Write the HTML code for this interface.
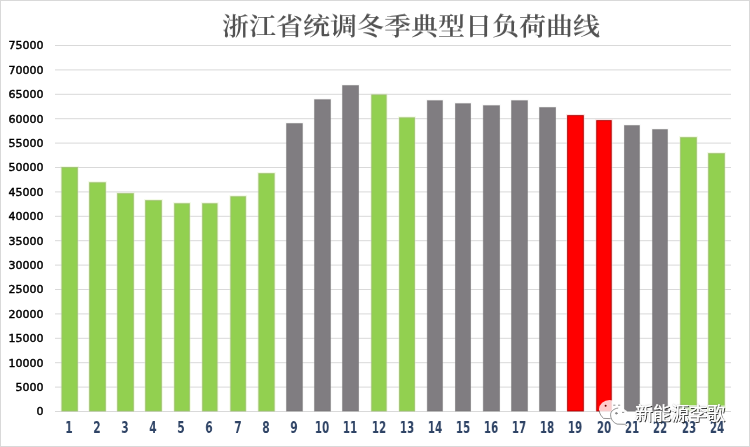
<!DOCTYPE html>
<html><head><meta charset="utf-8"><style>
*{margin:0;padding:0;box-sizing:border-box}
html,body{width:750px;height:447px;overflow:hidden;background:#fff}
#frame{position:absolute;left:0;top:0;width:750px;height:447px;border:1px solid #d9d9d9;z-index:5}
svg{position:absolute;left:0;top:0}
.yl{position:absolute;left:0;width:43.5px;text-align:right;font-family:"DejaVu Sans",sans-serif;font-weight:normal;font-size:11px;line-height:12px;color:#000;-webkit-text-stroke:0.45px #000;will-change:transform}
.xl{position:absolute;width:28px;text-align:center;font-family:"DejaVu Sans Condensed","DejaVu Sans",sans-serif;font-weight:bold;font-size:16.5px;line-height:16px;color:#2e4365;transform:scaleX(0.7);will-change:transform}
#title{position:absolute;left:206px;top:8px;width:410px;text-align:center;font-family:"Noto Serif CJK SC",serif;font-weight:600;font-size:27px;line-height:34px;color:#525252;white-space:nowrap;transform:scaleY(0.9);transform-origin:50% 18px;will-change:transform}
#wm{position:absolute;left:635px;top:400px;font-family:"Noto Sans CJK SC",sans-serif;font-size:18px;line-height:24px;color:#fff;-webkit-text-stroke:0.15px #fff;text-shadow:0 0 1px rgba(255,255,255,0.9),1px 1px 0.6px #2a2a2a,0 0 1.2px rgba(60,60,60,0.7);white-space:nowrap;will-change:transform}
</style></head><body>
<div id="title">浙江省统调冬季典型日负荷曲线</div>
<svg width="750" height="447" viewBox="0 0 750 447">

<rect x="60.40" y="166.00" width="18.50" height="245.00" fill="#f2fbe3"/>
<rect x="88.10" y="181.20" width="18.80" height="229.80" fill="#f2fbe3"/>
<rect x="116.10" y="192.10" width="18.80" height="218.90" fill="#f2fbe3"/>
<rect x="144.10" y="199.10" width="18.80" height="211.90" fill="#f2fbe3"/>
<rect x="173.10" y="202.20" width="17.80" height="208.80" fill="#f2fbe3"/>
<rect x="201.10" y="202.20" width="17.50" height="208.80" fill="#f2fbe3"/>
<rect x="229.30" y="195.20" width="17.80" height="215.80" fill="#f2fbe3"/>
<rect x="257.30" y="172.10" width="18.40" height="238.90" fill="#f2fbe3"/>
<rect x="285.10" y="122.10" width="18.75" height="288.90" fill="#fbfbfb"/>
<rect x="313.10" y="98.20" width="18.80" height="312.80" fill="#fbfbfb"/>
<rect x="341.10" y="84.10" width="18.90" height="326.90" fill="#fbfbfb"/>
<rect x="370.20" y="93.40" width="17.50" height="317.60" fill="#f2fbe3"/>
<rect x="398.00" y="116.30" width="18.00" height="294.70" fill="#f2fbe3"/>
<rect x="425.90" y="99.20" width="18.00" height="311.80" fill="#fbfbfb"/>
<rect x="454.00" y="102.20" width="18.00" height="308.80" fill="#fbfbfb"/>
<rect x="481.90" y="104.20" width="19.10" height="306.80" fill="#fbfbfb"/>
<rect x="510.10" y="99.20" width="18.80" height="311.80" fill="#fbfbfb"/>
<rect x="538.10" y="106.10" width="18.90" height="304.90" fill="#fbfbfb"/>
<rect x="566.10" y="114.10" width="18.75" height="296.90" fill="#ffe2e2"/>
<rect x="595.20" y="119.10" width="17.55" height="291.90" fill="#ffe2e2"/>
<rect x="623.00" y="124.10" width="17.90" height="286.90" fill="#fbfbfb"/>
<rect x="651.10" y="128.10" width="17.80" height="282.90" fill="#fbfbfb"/>
<rect x="679.10" y="136.10" width="18.80" height="274.90" fill="#f2fbe3"/>
<rect x="707.10" y="152.10" width="18.80" height="258.90" fill="#f2fbe3"/>
<g fill="#d9d9d9">
<rect x="55" y="45.00" width="676" height="1"/>
<rect x="55" y="69.40" width="676" height="1"/>
<rect x="55" y="93.80" width="676" height="1"/>
<rect x="55" y="118.20" width="676" height="1"/>
<rect x="55" y="142.60" width="676" height="1"/>
<rect x="55" y="167.00" width="676" height="1"/>
<rect x="55" y="191.40" width="676" height="1"/>
<rect x="55" y="215.80" width="676" height="1"/>
<rect x="55" y="240.20" width="676" height="1"/>
<rect x="55" y="264.60" width="676" height="1"/>
<rect x="55" y="289.00" width="676" height="1"/>
<rect x="55" y="313.40" width="676" height="1"/>
<rect x="55" y="337.80" width="676" height="1"/>
<rect x="55" y="362.20" width="676" height="1"/>
<rect x="55" y="386.60" width="676" height="1"/>
<rect x="55" y="411.00" width="676" height="1"/>
</g>
<rect x="61.90" y="167.50" width="15.50" height="243.50" fill="#92d050" stroke="#9fbf72" stroke-opacity="0.8" stroke-width="1"/>
<rect x="89.60" y="182.70" width="15.80" height="228.30" fill="#92d050" stroke="#9fbf72" stroke-opacity="0.8" stroke-width="1"/>
<rect x="117.60" y="193.60" width="15.80" height="217.40" fill="#92d050" stroke="#9fbf72" stroke-opacity="0.8" stroke-width="1"/>
<rect x="145.60" y="200.60" width="15.80" height="210.40" fill="#92d050" stroke="#9fbf72" stroke-opacity="0.8" stroke-width="1"/>
<rect x="174.60" y="203.70" width="14.80" height="207.30" fill="#92d050" stroke="#9fbf72" stroke-opacity="0.8" stroke-width="1"/>
<rect x="202.60" y="203.70" width="14.50" height="207.30" fill="#92d050" stroke="#9fbf72" stroke-opacity="0.8" stroke-width="1"/>
<rect x="230.80" y="196.70" width="14.80" height="214.30" fill="#92d050" stroke="#9fbf72" stroke-opacity="0.8" stroke-width="1"/>
<rect x="258.80" y="173.60" width="15.40" height="237.40" fill="#92d050" stroke="#9fbf72" stroke-opacity="0.8" stroke-width="1"/>
<rect x="286.60" y="123.60" width="15.75" height="287.40" fill="#807d81" stroke="#767477" stroke-opacity="0.6" stroke-width="1"/>
<rect x="314.60" y="99.70" width="15.80" height="311.30" fill="#807d81" stroke="#767477" stroke-opacity="0.6" stroke-width="1"/>
<rect x="342.60" y="85.60" width="15.90" height="325.40" fill="#807d81" stroke="#767477" stroke-opacity="0.6" stroke-width="1"/>
<rect x="371.70" y="94.90" width="14.50" height="316.10" fill="#92d050" stroke="#9fbf72" stroke-opacity="0.8" stroke-width="1"/>
<rect x="399.50" y="117.80" width="15.00" height="293.20" fill="#92d050" stroke="#9fbf72" stroke-opacity="0.8" stroke-width="1"/>
<rect x="427.40" y="100.70" width="15.00" height="310.30" fill="#807d81" stroke="#767477" stroke-opacity="0.6" stroke-width="1"/>
<rect x="455.50" y="103.70" width="15.00" height="307.30" fill="#807d81" stroke="#767477" stroke-opacity="0.6" stroke-width="1"/>
<rect x="483.40" y="105.70" width="16.10" height="305.30" fill="#807d81" stroke="#767477" stroke-opacity="0.6" stroke-width="1"/>
<rect x="511.60" y="100.70" width="15.80" height="310.30" fill="#807d81" stroke="#767477" stroke-opacity="0.6" stroke-width="1"/>
<rect x="539.60" y="107.60" width="15.90" height="303.40" fill="#807d81" stroke="#767477" stroke-opacity="0.6" stroke-width="1"/>
<rect x="567.60" y="115.60" width="15.75" height="295.40" fill="#ff0000" stroke="#a00000" stroke-opacity="0.8" stroke-width="1"/>
<rect x="596.70" y="120.60" width="14.55" height="290.40" fill="#ff0000" stroke="#a00000" stroke-opacity="0.8" stroke-width="1"/>
<rect x="624.50" y="125.60" width="14.90" height="285.40" fill="#807d81" stroke="#767477" stroke-opacity="0.6" stroke-width="1"/>
<rect x="652.60" y="129.60" width="14.80" height="281.40" fill="#807d81" stroke="#767477" stroke-opacity="0.6" stroke-width="1"/>
<rect x="680.60" y="137.60" width="15.80" height="273.40" fill="#92d050" stroke="#9fbf72" stroke-opacity="0.8" stroke-width="1"/>
<rect x="708.60" y="153.60" width="15.80" height="257.40" fill="#92d050" stroke="#9fbf72" stroke-opacity="0.8" stroke-width="1"/>
<rect x="680.1" y="405" width="16.8" height="6" fill="#fff" fill-opacity="0.7"/>
<rect x="708.1" y="405.5" width="16.8" height="5.5" fill="#fff" fill-opacity="0.7"/>
</svg>
<div class="yl" style="top:39.5px">75000</div>
<div class="yl" style="top:64.5px">70000</div>
<div class="yl" style="top:88.5px">65000</div>
<div class="yl" style="top:113.5px">60000</div>
<div class="yl" style="top:137.5px">55000</div>
<div class="yl" style="top:161.5px">50000</div>
<div class="yl" style="top:186.5px">45000</div>
<div class="yl" style="top:210.5px">40000</div>
<div class="yl" style="top:235.5px">35000</div>
<div class="yl" style="top:259.5px">30000</div>
<div class="yl" style="top:283.5px">25000</div>
<div class="yl" style="top:308.5px">20000</div>
<div class="yl" style="top:332.5px">15000</div>
<div class="yl" style="top:357.5px">10000</div>
<div class="yl" style="top:381.5px">5000</div>
<div class="yl" style="top:405.5px">0</div>
<div class="xl" style="left:54.85px;top:420px">1</div>
<div class="xl" style="left:82.74px;top:420px">2</div>
<div class="xl" style="left:110.78px;top:420px">3</div>
<div class="xl" style="left:138.82px;top:420px">4</div>
<div class="xl" style="left:167.36px;top:420px">5</div>
<div class="xl" style="left:195.25px;top:420px">6</div>
<div class="xl" style="left:223.63px;top:420px">7</div>
<div class="xl" style="left:251.97px;top:420px">8</div>
<div class="xl" style="left:279.99px;top:420px">9</div>
<div class="xl" style="left:308.05px;top:420px">10</div>
<div class="xl" style="left:336.14px;top:420px">11</div>
<div class="xl" style="left:364.58px;top:420px">12</div>
<div class="xl" style="left:392.67px;top:420px">13</div>
<div class="xl" style="left:420.61px;top:420px">14</div>
<div class="xl" style="left:448.75px;top:420px">15</div>
<div class="xl" style="left:477.24px;top:420px">16</div>
<div class="xl" style="left:505.33px;top:420px">17</div>
<div class="xl" style="left:533.42px;top:420px">18</div>
<div class="xl" style="left:561.38px;top:420px">19</div>
<div class="xl" style="left:589.92px;top:420px">20</div>
<div class="xl" style="left:617.93px;top:420px">21</div>
<div class="xl" style="left:646.02px;top:420px">22</div>
<div class="xl" style="left:674.56px;top:420px">23</div>
<div class="xl" style="left:702.60px;top:420px">24</div>
<svg style="position:absolute;left:0;top:0" width="750" height="447" viewBox="0 0 750 447">
<ellipse cx="609.6" cy="409.3" rx="10.6" ry="9.3" fill="#fff" fill-opacity="0.8"/>
<ellipse cx="619.6" cy="416.4" rx="9.3" ry="8.3" fill="#fff" fill-opacity="0.9"/>
<g fill="none" stroke="#2a2a2a" stroke-width="0.6" stroke-opacity="0.85" stroke-linecap="round">
<path d="M599.2 411.2 C599.8 414 601.3 416.5 603.6 418.4 L610.2 418.6"/>
<path d="M617.8 408.1 C613.6 408.6 610.6 411.6 610.6 414.6 C610.6 419 613 422.6 617.2 424.1 L624.5 424.3 L626.6 425.6"/>
<path d="M613.6 405.2 L615 405.2 M618.4 405.2 L619.8 405.2"/>
<circle cx="616.3" cy="413.3" r="0.8"/>
<path d="M622.4 412.4 L623.8 412.4"/>
</g>
<circle cx="605.6" cy="405.8" r="1.0" fill="#7a0000"/>
</svg>

<div id="wm">新能源李歌</div>

<div id="frame"></div></body></html>
